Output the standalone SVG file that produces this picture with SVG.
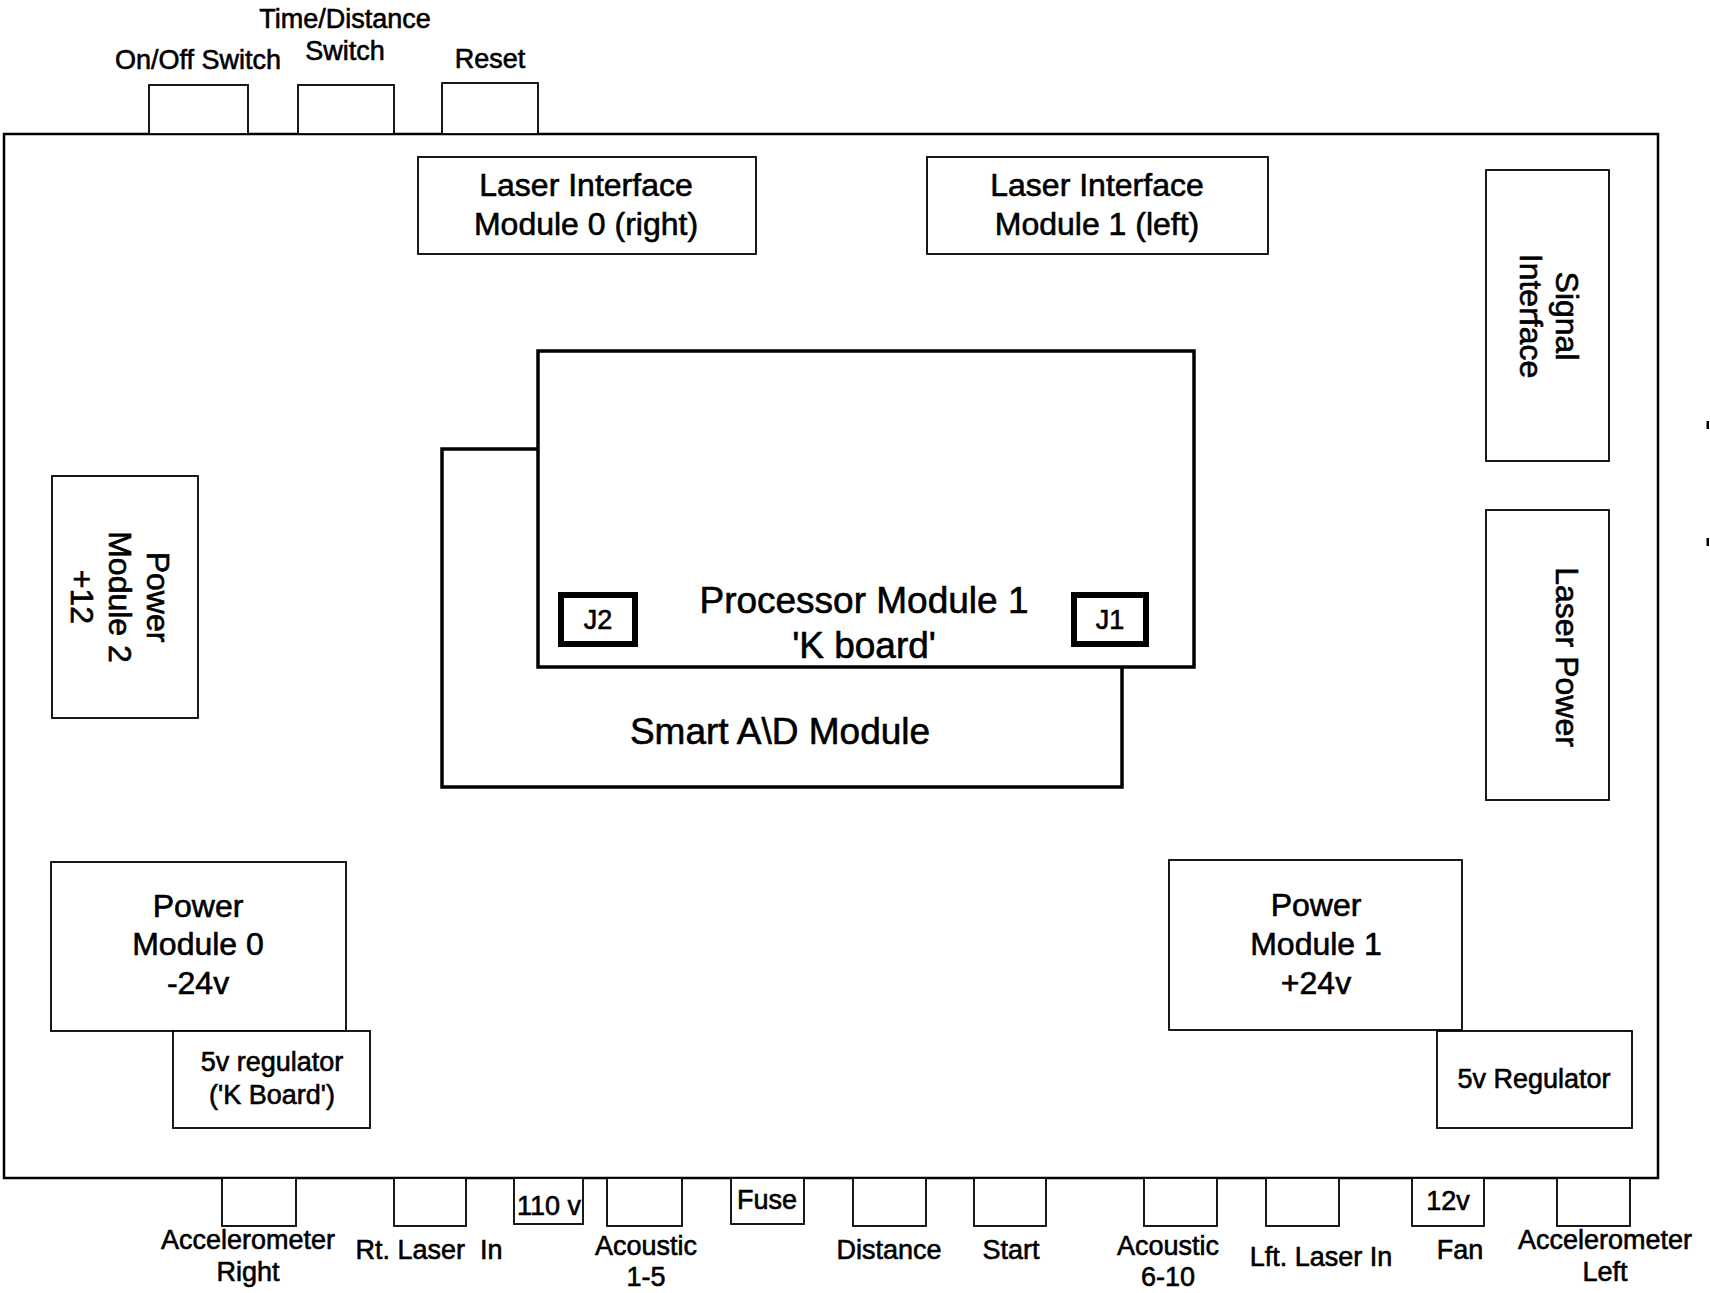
<svg xmlns="http://www.w3.org/2000/svg" width="1710" height="1293" viewBox="0 0 1710 1293">
<style>
  .box { fill: #fff; stroke: #000; stroke-width: 1.8; }
  .outer { fill: #fff; stroke: #000; stroke-width: 2.5; }
  .thick { fill: #fff; stroke: #000; stroke-width: 3.5; }
  .jbox { fill: #fff; stroke: #000; stroke-width: 6; }
  text { font-family: "Liberation Sans", Arial, sans-serif; fill: #000; stroke: #000; stroke-width: 0.6; text-anchor: middle; }
  .s { font-size: 27px; }
  .m { font-size: 32px; }
  .l { font-size: 37px; }
</style>
<rect width="1710" height="1293" fill="#fff"/>

<g id="enclosure">
  <rect class="outer" x="4" y="134" width="1654" height="1044"/>
  <rect x="1706.5" y="421" width="2.5" height="8" fill="#000"/>
  <rect x="1706.5" y="538" width="2.5" height="8" fill="#000"/>
</g>

<!-- top switches -->
<g id="onoff-switch">
  <rect class="box" x="149" y="85" width="99" height="49"/>
  <text class="s" x="198" y="69">On/Off Switch</text>
</g>
<g id="time-distance-switch">
  <rect class="box" x="298" y="85" width="96" height="49"/>
  <text class="s" x="345" y="28">Time/Distance</text>
  <text class="s" x="345" y="60">Switch</text>
</g>
<g id="reset">
  <rect class="box" x="442" y="83" width="96" height="51"/>
  <text class="s" x="490" y="68">Reset</text>
</g>

<g id="laser-interface-0">
  <rect class="box" x="418" y="157" width="338" height="97"/>
  <text class="m" x="586" y="196">Laser Interface</text>
  <text class="m" x="586" y="235">Module 0 (right)</text>
</g>
<g id="laser-interface-1">
  <rect class="box" x="927" y="157" width="341" height="97"/>
  <text class="m" x="1097" y="196">Laser Interface</text>
  <text class="m" x="1097" y="235">Module 1 (left)</text>
</g>

<g id="signal-interface">
  <rect class="box" x="1486" y="170" width="123" height="291"/>
  <g transform="translate(1549,316) rotate(90)">
    <text class="m" x="0" y="-7">Signal</text>
    <text class="m" x="0" y="29">Interface</text>
  </g>
</g>
<g id="laser-power">
  <rect class="box" x="1486" y="510" width="123" height="290"/>
  <g transform="translate(1567,657) rotate(90)">
    <text class="m" x="0" y="11">Laser Power</text>
  </g>
</g>

<g id="power-module-2">
  <rect class="box" x="52" y="476" width="146" height="242"/>
  <g transform="translate(120,597) rotate(90)">
    <text class="m" x="0" y="-27">Power</text>
    <text class="m" x="0" y="11">Module 2</text>
    <text class="m" x="0" y="49">+12</text>
  </g>
</g>

<g id="smart-ad-module">
  <rect class="thick" x="442" y="449" width="680" height="338"/>
  <text class="l" x="780" y="744">Smart A\D Module</text>
</g>
<g id="processor-module-1">
  <rect class="thick" x="538" y="351" width="656" height="316"/>
  <text class="l" x="864" y="613">Processor Module 1</text>
  <text class="l" x="864" y="658">'K board'</text>
</g>
<g id="j2">
  <rect class="jbox" x="561" y="595" width="74" height="49"/>
  <text class="s" x="598" y="629">J2</text>
</g>
<g id="j1">
  <rect class="jbox" x="1074" y="595" width="72" height="49"/>
  <text class="s" x="1110" y="629">J1</text>
</g>

<g id="power-module-0">
  <rect class="box" x="51" y="862" width="295" height="169"/>
  <text class="m" x="198" y="917">Power</text>
  <text class="m" x="198" y="955">Module 0</text>
  <text class="m" x="198" y="994">-24v</text>
</g>
<g id="regulator-k-board">
  <rect class="box" x="173" y="1031" width="197" height="97"/>
  <text class="s" x="272" y="1071">5v regulator</text>
  <text class="s" x="272" y="1104">('K Board')</text>
</g>
<g id="power-module-1">
  <rect class="box" x="1169" y="860" width="293" height="170"/>
  <text class="m" x="1316" y="916">Power</text>
  <text class="m" x="1316" y="955">Module 1</text>
  <text class="m" x="1316" y="994">+24v</text>
</g>
<g id="regulator-5v">
  <rect class="box" x="1437" y="1031" width="195" height="97"/>
  <text class="s" x="1534" y="1088">5v Regulator</text>
</g>

<!-- bottom connectors -->
<g id="accelerometer-right">
  <rect class="box" x="222" y="1178" width="74" height="48"/>
  <text class="s" x="248" y="1249">Accelerometer</text>
  <text class="s" x="248" y="1281">Right</text>
</g>
<g id="rt-laser-in">
  <rect class="box" x="394" y="1178" width="72" height="48"/>
  <text class="s" x="429" y="1259" xml:space="preserve">Rt. Laser  In</text>
</g>
<g id="ac-110v">
  <rect class="box" x="514" y="1178" width="69" height="46"/>
  <text class="s" x="549" y="1215">110 v</text>
</g>
<g id="acoustic-1-5">
  <rect class="box" x="607" y="1178" width="75" height="48"/>
  <text class="s" x="646" y="1255">Acoustic</text>
  <text class="s" x="646" y="1286">1-5</text>
</g>
<g id="fuse">
  <rect class="box" x="731" y="1178" width="73" height="46"/>
  <text class="s" x="767" y="1209">Fuse</text>
</g>
<g id="distance">
  <rect class="box" x="853" y="1178" width="73" height="48"/>
  <text class="s" x="889" y="1259">Distance</text>
</g>
<g id="start">
  <rect class="box" x="974" y="1178" width="72" height="48"/>
  <text class="s" x="1011" y="1259">Start</text>
</g>
<g id="acoustic-6-10">
  <rect class="box" x="1144" y="1178" width="73" height="48"/>
  <text class="s" x="1168" y="1255">Acoustic</text>
  <text class="s" x="1168" y="1286">6-10</text>
</g>
<g id="lft-laser-in">
  <rect class="box" x="1266" y="1178" width="73" height="48"/>
  <text class="s" x="1321" y="1266">Lft. Laser In</text>
</g>
<g id="fan-12v">
  <rect class="box" x="1412" y="1178" width="72" height="48"/>
  <text class="s" x="1448" y="1210">12v</text>
  <text class="s" x="1460" y="1259">Fan</text>
</g>
<g id="accelerometer-left">
  <rect class="box" x="1557" y="1178" width="73" height="48"/>
  <text class="s" x="1605" y="1249">Accelerometer</text>
  <text class="s" x="1605" y="1281">Left</text>
</g>

<g id="connectors"></g>
</svg>
